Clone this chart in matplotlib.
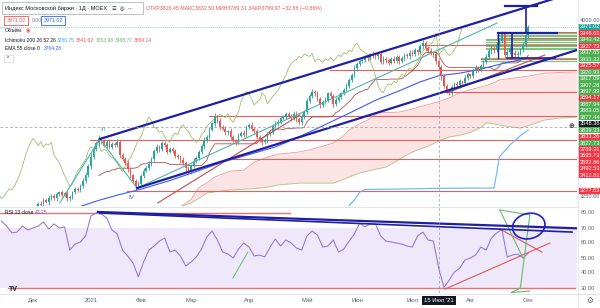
import numpy as np
import pandas as pd
import matplotlib
matplotlib.use("Agg")
import matplotlib.pyplot as plt
from matplotlib.patches import Rectangle, Ellipse
from matplotlib.transforms import blended_transform_factory

plt.rcParams['font.family'] = ['Liberation Sans', 'DejaVu Sans']

# daily closes, bar 0 = 1 Dec 2020 ... bar 188 = 1 Sep 2021
closes = [3190, 3205, 3222, 3215, 3238, 3230, 3248, 3256, 3244, 3262,
          3270, 3257, 3266, 3244, 3252, 3270, 3284, 3281, 3296, 3320,
          3345, 3380, 3420, 3452, 3478, 3498, 3486, 3468, 3484, 3462,
          3476, 3470, 3482, 3428, 3412, 3396, 3368, 3342, 3318, 3295,
          3305, 3338, 3362, 3374, 3392, 3410, 3446, 3462, 3454, 3478,
          3470, 3442, 3452, 3446, 3426, 3418, 3408, 3394, 3372, 3358,
          3382, 3404, 3416, 3440, 3466, 3490, 3506, 3536, 3562, 3590,
          3574, 3546, 3540, 3524, 3530, 3506, 3490, 3482, 3510, 3522,
          3514, 3546, 3556, 3540, 3528, 3506, 3494, 3482, 3490, 3516,
          3526, 3550, 3562, 3570, 3586, 3590, 3600, 3594, 3586, 3604,
          3580, 3566, 3590, 3612, 3655, 3680, 3696, 3690, 3666, 3640,
          3652, 3662, 3690, 3680, 3645, 3660, 3676, 3690, 3702, 3722,
          3746, 3766, 3796, 3815, 3826, 3832, 3846, 3840, 3856, 3850,
          3846, 3858, 3824, 3836, 3830, 3820, 3836, 3828, 3842, 3826,
          3838, 3852, 3846, 3862, 3856, 3872, 3866, 3890, 3902, 3880,
          3870, 3862, 3855, 3826.45, 3799.97, 3762, 3722, 3700, 3692, 3716,
          3730, 3724, 3740, 3734, 3756, 3770, 3764, 3786, 3796, 3790,
          3805, 3822, 3845, 3868, 3880, 3872, 3895, 3912, 3945, 3853.98,
          3866, 3880, 3862, 3850, 3858, 3876, 3894, 3935, 3971.02]
wick_up = [8, 10, 6, 12, 7, 9, 11, 5, 8, 10, 6, 9, 7, 12, 8, 6, 10, 7, 9, 11,
           8, 12, 15, 10, 9, 14, 8, 11, 7, 13, 9, 6, 12, 10, 8, 7, 11, 9, 6, 10,
           12, 8, 9, 7, 11, 10, 6, 13, 8, 9, 10, 7, 12, 9, 8, 6, 11, 10, 7, 9,
           8, 12, 6, 10, 9, 14, 8, 11, 7, 16, 9, 10, 8, 12, 6, 11, 9, 7, 10, 8,
           12, 9, 6, 11, 8, 10, 7, 9, 12, 8, 6, 10, 9, 11, 8, 7, 12, 10, 6, 9,
           11, 8, 10, 7, 13, 9, 12, 8, 10, 6, 9, 11, 7, 10, 8, 12, 9, 6, 11, 10,
           8, 9, 12, 7, 10, 11, 8, 9, 6, 12, 10, 7, 9, 11, 8, 10, 6, 12, 9, 8,
           11, 7, 10, 9, 12, 8, 6, 10, 14, 9, 8, 11, 7, 12, 6.05, 10, 9, 8, 11, 10,
           7, 12, 9, 8, 10, 11, 6, 9, 12, 8, 10, 7, 11, 9, 13, 8, 10, 12, 9, 7,
           14, 8, 10, 9, 11, 7, 12, 9, 8]
wick_dn = [9, 7, 11, 8, 10, 6, 12, 9, 7, 10, 8, 11, 6, 12, 9, 10, 7, 8, 11, 9,
           10, 8, 12, 9, 7, 11, 10, 8, 12, 9, 7, 10, 8, 14, 9, 11, 10, 12, 9, 15,
           10, 7, 9, 8, 11, 9, 7, 10, 12, 8, 9, 11, 7, 10, 9, 8, 12, 10, 11, 13,
           9, 8, 10, 7, 9, 11, 8, 10, 7, 9, 11, 12, 8, 10, 9, 11, 10, 12, 8, 7,
           9, 10, 8, 11, 9, 12, 10, 11, 8, 9, 7, 10, 8, 9, 11, 8, 10, 9, 12, 8,
           10, 11, 9, 8, 10, 7, 9, 11, 10, 12, 9, 8, 10, 11, 13, 9, 8, 10, 7, 9,
           8, 10, 9, 11, 8, 9, 10, 12, 8, 9, 11, 10, 12, 9, 10, 11, 8, 9, 10, 11,
           9, 10, 8, 11, 9, 10, 12, 9, 11, 10, 9, 8, 10, 12, 10.66, 14, 12, 10, 9, 8,
           10, 9, 11, 8, 10, 9, 11, 8, 10, 9, 11, 10, 8, 9, 10, 11, 9, 8, 10, 14,
           9, 11, 10, 12, 9, 8, 10, 9, 11]

# Ichimoku cloud (leading spans)
cloud_idx = [56, 60, 63, 66, 69, 72, 75, 80, 84, 88, 93, 97, 101, 105, 109, 114,
             118, 120, 124, 127, 131, 134, 139, 143, 146, 150, 154, 158, 162, 166,
             170, 172, 174, 177, 181, 185, 190, 194, 200, 206.5]
lead_b = [3208, 3240, 3290, 3310, 3335, 3348, 3360, 3364, 3398, 3415, 3432, 3436,
          3441, 3450, 3462, 3479, 3510, 3534, 3560, 3576, 3606, 3608, 3610, 3620,
          3630, 3642, 3654, 3670, 3691, 3705, 3716, 3722, 3730, 3746, 3752, 3758,
          3766, 3775, 3778, 3780]
lead_a = [3208, 3225, 3245, 3267, 3272, 3276, 3280, 3283, 3286, 3290, 3301, 3305,
          3309, 3309, 3309, 3309, 3325, 3335, 3352, 3360, 3370, 3377, 3410, 3435,
          3450, 3465, 3488, 3505, 3512, 3524, 3545, 3564, 3562, 3555, 3548, 3542,
          3560, 3576, 3585, 3589]
conv_idx = [118, 122, 124, 126, 140, 154, 170, 175, 176, 177, 179, 181, 183, 185, 188]
conv_val = [3190, 3237, 3270, 3282, 3284, 3287, 3288, 3288, 3350, 3420, 3445, 3470,
            3490, 3510, 3534]
ema_idx = [12, 18, 25, 32, 41, 52, 63, 72, 82, 92, 101, 110, 120, 130, 139, 147,
           154, 162, 170, 178, 188]
ema_val = [3196, 3210, 3236, 3258, 3283, 3320, 3362, 3398, 3430, 3462, 3505, 3552,
           3605, 3660, 3700, 3738, 3764, 3775, 3792, 3815, 3839]

# RSI 13, read every two bars
rsi_idx = list(range(-12, 189, 2))
rsi_val = [74.7, 71.3, 66.7, 67.3, 71.3, 68.7, 70, 71.3, 74, 69.3, 72.7, 70, 70.7,
           55.3, 59.3, 60.7, 64.7, 78, 80, 79.3, 76.7, 68.7, 66, 55.3, 51.3, 46.7,
           37.5, 47.3, 55.3, 58, 61.3, 63.3, 54, 55.3, 51.3, 44.7, 47.3, 50.7, 56,
           64, 68, 62, 54, 52.7, 50, 56, 60, 57.3, 51.3, 52, 50.7, 57.3, 62.7, 58,
           62, 60, 56.7, 55.3, 64.7, 68, 65.3, 57.3, 58, 62, 54, 56, 61.3, 66, 73.3,
           70.7, 72.7, 72.7, 64.7, 61.3, 60.7, 60, 59.3, 58, 57.3, 64.7, 67.3, 62,
           61.3, 43.25, 30.5, 35.3, 40.7, 43.3, 48.7, 50, 52, 57.3, 55.3, 63.3, 66.7,
           69, 50.7, 52, 52.7, 50, 53.3]

# drawn horizontal levels: price, colour, first bar
levels = [(3948.61, 'r', 176), (3943.42, 'g', 176), (3937.73, 'r', 176),
          (3937.65, 'g', 176), (3933.33, 'g', 176), (3925.57, 'r', 176),
          (3920.93, 'g', 172), (3917.09, 'g', 172), (3907.28, 'g', 172),
          (3897.99, 'g', 172), (3894.17, 'r', 147.6), (3887.94, 'g', 172),
          (3883.05, 'g', 172), (3877.44, 'g', 172), (3839.33, 'g', 170),
          (3833.26, 'r', 170), (3827.73, 'g', 170), (3789.31, 'r', 112.7),
          (3695.73, 'r', 155.6), (3592.86, 'r', 67), (3492.53, 'r', 21.6),
          (3412.81, 'r', 75), (3277.63, 'r', 35.7)]

axis_labels = ['3971.02', '3948.61', '3943.42', '3937.73', '3937.65', '3933.33',
               '3925.57', '3920.93', '3917.09', '3907.28', '3897.99', '3894.17',
               '3887.94', '3883.05', '3877.44', '3548.36', '3839.33', '3833.26',
               '3827.73', '3789.31', '3695.73', '3592.86', '3492.53', '3412.81']
axis_kinds = ['t', 'r', 'g', 'r', 'g', 'g', 'r', 'g', 'g', 'g', 'g', 'r', 'g', 'g',
              'g', 'k', 'g', 'r', 'g', 'r', 'r', 'r', 'r', 'r']
month_idx = [0, 22, 41, 60, 82, 104, 123, 144, 166, 188]
month_lbl = ['Дек', '2021', 'Фев', 'Мар', 'Апр', 'Май', 'Июн', 'Июл', 'Авг', 'Сен']

GREEN, RED = '#26a69a', '#ef5350'
NAVY = '#1f1fa3'
W, H = 600, 308


def fx(x):
    return x / W


def fy(y):
    return 1 - y / H


fig = plt.figure(figsize=(6, 3.08), dpi=100)
ax = fig.add_axes([0, fy(206), 577 / W, 206 / H])
axr = fig.add_axes([0, fy(293), 577 / W, 86 / H])
for a in (ax, axr):
    a.set_xlim(-12.5, 206.5)
    a.set_axis_off()
ax.set_ylim(3212, 4085)
axr.set_ylim(26.7, 84)

# ---- main pane
c = np.array(closes, dtype=float)
idx = np.arange(len(c))
o = np.r_[c[0] - 12, c[:-1]]
hi = np.maximum(o, c) + np.array(wick_up)
lo = np.minimum(o, c) - np.array(wick_dn)
cols = np.where(c >= o, GREEN, RED)

ax.fill_between(cloud_idx, lead_a, lead_b, color='#fce4e4', lw=0, zorder=1)
ax.plot(cloud_idx, lead_a, color='#b3c38a', lw=0.6, zorder=2)
ax.plot(cloud_idx, lead_b, color='#eb9a9a', lw=0.6, zorder=2)

for p, k, s in levels:
    ax.plot([s, 206.5], [p, p], color='#e36060' if k == 'r' else '#7cc47f',
            lw=0.8, zorder=2)

kijun = (pd.Series(hi).rolling(26).max() + pd.Series(lo).rolling(26).min()) / 2
ax.plot(idx, kijun, color='#a94442', lw=0.55, zorder=3)
ax.plot(idx - 25, c, color='#9cc069', lw=0.6, zorder=3)
ax.plot(conv_idx, conv_val, color='#64b5f6', lw=0.8, zorder=3)
ax.plot(ema_idx, ema_val, color='#3d5afe', lw=0.8, zorder=3)

ax.vlines(idx, lo, hi, color=cols, lw=0.6, zorder=4)
body = np.maximum(np.abs(c - o), 2.5)
ax.bar(idx, body, bottom=np.minimum(o, c), width=0.62, color=cols, lw=0, zorder=5)

# wave lines and channel
ax.plot([10.2, 25.4, 39.5, 176.1], [3225, 3496, 3288, 3987], color='#4db6ac',
        lw=0.8, zorder=6)
ax.plot([47.4, 101.3], [3225, 3598], color='#c0504d', lw=0.8, zorder=6)
ax.plot([157.1, 194.3], [3691, 3852], color='#c0504d', lw=0.8, zorder=6)
ax.plot([25.4, 206.5], [3496, 4120.5], color=NAVY, lw=1.6, zorder=7)
ax.plot([39.5, 206.5], [3288, 3873], color=NAVY, lw=1.6, zorder=7)
ax.plot([176.5, 198.9], [3945, 3945], color=NAVY, lw=1.6, zorder=7)
ax.plot([179.9, 198], [3839, 3839], color=NAVY, lw=1.2, zorder=7)
ax.plot([181.8, 181.8], [3945, 3839], color=NAVY, lw=1.2, zorder=7)
ax.plot([176.5, 176.5], [3945, 3839], color=NAVY, lw=1.0, zorder=7)
ax.plot([187, 187], [3945, 4059], color=NAVY, lw=1.2, zorder=7)
ax.plot([179, 191.3], [4059, 4059], color=NAVY, lw=1.6, zorder=7)
ax.text(26.6, 3530, 'III', color='#4db6ac', fontsize=4.5, ha='center', zorder=8)
ax.text(37.5, 3240, 'IV', color='#3d5afe', fontsize=4.5, ha='center', zorder=8)

ax.axhline(3971.02, color=GREEN, lw=0.5, ls=(0, (1, 2)), zorder=2)
ax.axhline(3548.36, color='#9598a1', lw=0.5, ls=(0, (4, 3)), zorder=8)
ax.axvline(154, color='#9598a1', lw=0.5, ls=(0, (4, 3)), zorder=8)

# ---- RSI pane
axr.axhspan(30, 70, color='#efe8fa', lw=0, zorder=0)
axr.plot([-12.5, 97.5], [80.3, 80.3], color='#e57373', lw=1.0, zorder=2)
axr.plot([-9.5, 205.7], [30, 30], color='#e57373', lw=1.0, zorder=2)
axr.plot(rsi_idx, rsi_val, color='#9575cd', lw=0.75, zorder=3)
axr.plot([24.7, 215], [80.7, 69.3], color=NAVY, lw=1.6, zorder=5)
axr.plot([25.4, 204.6], [80, 67.3], color=NAVY, lw=1.2, zorder=5)
axr.plot([156.4, 196.2], [29.3, 60], color='#e05555', lw=0.8, zorder=4)
axr.plot([177.2, 193.2], [69.3, 54], color='#e05555', lw=0.8, zorder=4)
axr.plot([177.2, 188.6, 185, 181.5, 188.6], [82, 78.7, 30, 27, 28],
         color='#66bb6a', lw=0.8, zorder=4)
axr.plot([177.2, 186], [82, 50], color='#66bb6a', lw=0.8, zorder=4)
axr.plot([75.9, 81.6], [36.7, 54], color='#66bb6a', lw=0.7, zorder=4)
axr.add_patch(Ellipse((188.2, 71.3), 12.1, 17.3, angle=-10, fill=False,
                      edgecolor='#1f1fd0', lw=1.2, zorder=6))
axr.axvline(154, color='#9598a1', lw=0.5, ls=(0, (4, 3)), zorder=8)
axr.text(-9, 27.8, 'TV', fontsize=5, fontweight='bold', color='#131722', zorder=9)

# ---- frame lines
fig.add_artist(plt.Line2D([0, fx(577)], [fy(206.5)] * 2, color='#e0e3eb', lw=0.8))
fig.add_artist(plt.Line2D([0, 1], [fy(293.5)] * 2, color='#e0e3eb', lw=0.8))
fig.add_artist(plt.Line2D([fx(577.5)] * 2, [fy(0), fy(308)], color='#e0e3eb', lw=0.6))

# ---- right price scale
kind_col = {'t': '#26a69a', 'r': '#f23645', 'g': '#4caf50', 'k': '#131722'}
for k, (lab, kd) in enumerate(zip(axis_labels, axis_kinds)):
    y = 27 + k * 6.45
    fig.add_artist(Rectangle((fx(578), fy(y + 3.1)), fx(22), 6.2 / H,
                             color=kind_col[kd], lw=0))
    fig.text(fx(580), fy(y), lab, color='white', fontsize=4.1, va='center')
fig.add_artist(Rectangle((fx(578), fy(193.6)), fx(22), 6.2 / H,
                         facecolor='#f23645', edgecolor='white', lw=0.5))
fig.text(fx(580), fy(190.5), '3277.63', color='white', fontsize=4.1, va='center')
fig.text(fx(571.5), fy(126), '⊕', color='#131722', fontsize=5, va='center',
         ha='center')
fig.text(fx(580), fy(20), '4000.00', color='#5d606b', fontsize=4.1, va='center')
fig.text(fx(580), fy(197), '3250.00', color='#5d606b', fontsize=4.1, va='center')
for v in [80, 70, 60, 50, 40, 30]:
    yy = 228 + (70 - v) * 1.5
    fig.text(fx(581), fy(yy), f'{v:.2f}', color='#5d606b', fontsize=4.1, va='center')

# ---- date axis
tr = blended_transform_factory(axr.transData, fig.transFigure)
for m, lab in zip(month_idx, month_lbl):
    fig.text(m, fy(300.5), lab, transform=tr, fontsize=4.2, color='#5d606b',
             ha='center', va='center')
fig.text(154, fy(300.5), "15 Июл '21", transform=tr, fontsize=4.2, color='white',
         ha='center', va='center',
         bbox=dict(boxstyle='square,pad=0.35', fc='#131722', ec='none'))
fig.text(fx(590), fy(300.5), '⚙', fontsize=5.5, color='#5d606b', ha='center',
         va='center', family=['DejaVu Sans'])

# ---- legend
fig.add_artist(Rectangle((fx(2), fy(14)), fx(141), 12 / H, facecolor='white',
                         edgecolor='#b2b5be', lw=0.6))
fig.text(fx(5), fy(8.3), 'Индекс Московской биржи · 1Д · MOEX', fontsize=4.0,
         color='#131722', va='center')
fig.text(fx(112), fy(8.3), '☰  ◎  ···', fontsize=3.8, color='#131722',
         va='center', family=['DejaVu Sans'])
fig.text(fx(146), fy(8.3),
         'ОТКР3826.45 МАКС3832.50 МИН3789.31 ЗАКР3799.97 −32.88 (−0.86%)',
         fontsize=3.8, color='#ef5350', va='center')
fig.add_artist(Rectangle((fx(4), fy(25)), fx(24), 9 / H, facecolor='white',
                         edgecolor='#ef5350', lw=0.6))
fig.text(fx(16), fy(20.5), '3971.02', fontsize=3.8, color='#ef5350', ha='center',
         va='center')
fig.text(fx(32), fy(20.5), '0.00', fontsize=3.6, color='#787b86', va='center')
fig.add_artist(Rectangle((fx(41), fy(25)), fx(24), 9 / H, facecolor='white',
                         edgecolor='#2962ff', lw=0.6))
fig.text(fx(53), fy(20.5), '3971.02', fontsize=3.8, color='#2962ff', ha='center',
         va='center')
fig.text(fx(5), fy(31), 'Объём', fontsize=3.8, color='#131722', va='center')
fig.text(fx(26), fy(31), '◉', fontsize=3.8, color='#ef5350', va='center',
         family=['DejaVu Sans'])
fig.text(fx(5), fy(40), 'Ichimoku 200 26 52 26', fontsize=3.6, color='#131722',
         va='center')
for xx, t, col in [(57, '3286.75', '#42a5f5'), (76, '3841.62', '#ef5350'),
                   (96, '3853.98', '#66bb6a'), (115, '3488.77', '#66bb6a'),
                   (134, '3654.14', '#ef5350')]:
    fig.text(fx(xx), fy(40), t, fontsize=3.6, color=col, va='center')
fig.text(fx(5), fy(49), 'EMA 55 close 0', fontsize=3.6, color='#131722',
         va='center')
fig.text(fx(44), fy(49), '3764.28', fontsize=3.6, color='#2962ff', va='center')
fig.add_artist(Rectangle((fx(4), fy(62)), fx(9), 7 / H, facecolor='white',
                         edgecolor='#d1d4dc', lw=0.5))
fig.text(fx(8.5), fy(58.5), '^', fontsize=3.8, color='#131722', ha='center',
         va='center')
fig.text(fx(5), fy(212), 'RSI 13 close', fontsize=3.6, color='#131722', va='center')
fig.text(fx(35), fy(212), '43.25', fontsize=3.6, color='#7e57c2', va='center')

fig.savefig('out.png', dpi=100)
